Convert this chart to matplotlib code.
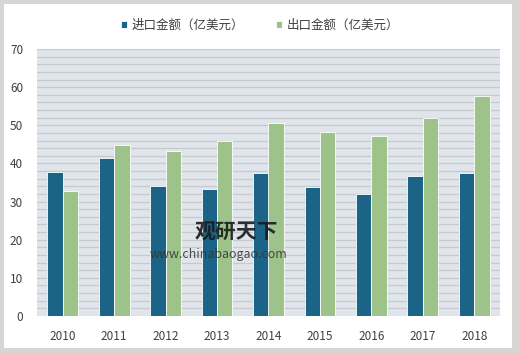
import matplotlib.pyplot as plt
import numpy as np
from matplotlib.patches import Rectangle

plt.rcParams['font.family'] = ['Noto Sans CJK SC', 'DejaVu Sans']

years = ['2010', '2011', '2012', '2013', '2014', '2015', '2016', '2017', '2018']
imports = [37.8, 41.4, 34.2, 33.3, 37.4, 33.9, 32.0, 36.6, 37.6]
exports = [32.7, 44.8, 43.3, 45.9, 50.6, 48.3, 47.2, 52.0, 57.8]
labels = ['进口金额（亿美元）', '出口金额（亿美元）']

c_imp = '#1b6487'
c_exp = '#9dc38a'

fig = plt.figure(figsize=(5.2, 3.53), dpi=100)
fig.patch.set_facecolor('#d6d6d6')
fig.patches.append(Rectangle((4 / 520, 5 / 353), 508 / 520, 344 / 353,
                             transform=fig.transFigure, facecolor='white',
                             edgecolor='none', zorder=-10))

ax = fig.add_axes([37 / 520, 37 / 353, 463 / 520, 267 / 353])
ax.set_facecolor('#dfe5ea')

x = np.arange(len(years))
w = 0.3
ax.bar(x - w / 2, imports, w, color=c_imp, edgecolor='white', linewidth=0.6,
       label=labels[0], zorder=3)
ax.bar(x + w / 2, exports, w, color=c_exp, edgecolor='white', linewidth=0.6,
       label=labels[1], zorder=3)

ax.set_xlim(-0.5, len(years) - 0.5)
ax.set_ylim(0, 70)
ax.set_yticks(range(0, 71, 10))
ax.set_yticks(range(0, 71, 2), minor=True)
ax.grid(axis='y', which='both', color='#c6cacd', linewidth=0.9, zorder=0)
ax.set_axisbelow(True)
ax.set_xticks(x)
ax.set_xticklabels(years)
for s in ax.spines.values():
    s.set_visible(False)
ax.tick_params(axis='both', which='both', length=0, labelsize=8.5,
               colors='#404040')
ax.tick_params(axis='x', pad=10)
ax.tick_params(axis='y', pad=10)

# watermark
fig.text(0.375, 0.325, '观研天下', fontsize=15, fontweight='bold',
         color='#1a1a1a', alpha=0.9, family=['Noto Sans CJK SC'], zorder=5)
fig.text(0.288, 0.27, 'www.chinabaogao.com', fontsize=9, color='#333333',
         alpha=0.85, zorder=5)

leg = fig.legend(loc='center', bbox_to_anchor=(0.5, 0.928), ncol=2,
                 frameon=True, fontsize=9, handlelength=0.5, handleheight=0.5,
                 columnspacing=2.5, handletextpad=0.4, borderpad=0.5)
leg.get_frame().set_facecolor('white')
leg.get_frame().set_edgecolor('none')
leg.get_frame().set_boxstyle('square', pad=0.0)
for t in leg.get_texts():
    t.set_color('#404040')

fig.savefig('out.png', dpi=100, facecolor=fig.get_facecolor())
